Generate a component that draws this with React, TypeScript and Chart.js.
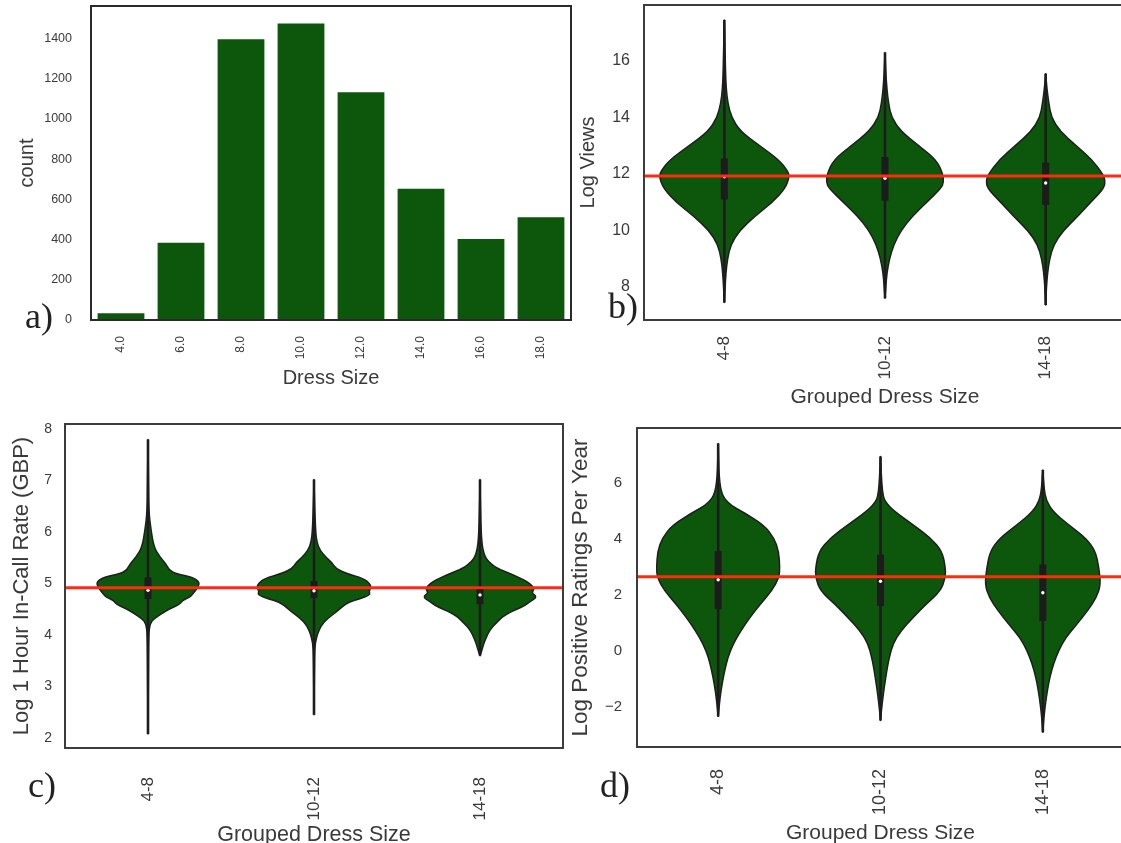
import React, { useEffect, useRef } from "react";
import { Chart, registerables } from "chart.js";

Chart.register(...registerables);

const FONT = "'Liberation Sans', Arial, Helvetica, sans-serif";
const GREEN = "#0d570d";
const EDGE = "#1e1e1e";
const TEXT = "#3a3a3a";
const RED = "#ff2a12";
const FRAME = "#3c3c3c";

// ---------- a) bar chart ----------
const dressSizes = ["4.0", "6.0", "8.0", "10.0", "12.0", "14.0", "16.0", "18.0"];
const dressCounts = [33, 384, 1396, 1475, 1133, 653, 403, 511];
const countTicks = [0, 200, 400, 600, 800, 1000, 1200, 1400];

// ---------- shared groups ----------
const sizeGroups = ["4-8", "10-12", "14-18"];

// ---------- b) Log Views ----------
const viewsTicks = [8, 10, 12, 14, 16];
const viewsMean = 11.93;
const viewsMedian = [11.9, 11.85, 11.68];
const viewsQ1 = [11.1, 11.05, 10.9];
const viewsQ3 = [12.55, 12.6, 12.4];
const viewsLow = [7.45, 7.6, 7.36];
const viewsHigh = [17.45, 16.3, 15.55];
// [value, half width in category units]
const viewsShape48: [number, number][] = [
  [17.45, 0], [16.5, 0.004], [15.5, 0.008], [15, 0.012], [14.5, 0.022], [14, 0.045], [13.5, 0.1],
  [13, 0.22], [12.5, 0.34], [12.1, 0.395], [11.9, 0.405], [11.5, 0.38], [11, 0.3], [10.5, 0.19],
  [10, 0.095], [9.5, 0.04], [9, 0.02], [8.5, 0.01], [8, 0.005], [7.45, 0],
];
const viewsShape1012: [number, number][] = [
  [16.3, 0], [15.5, 0.006], [15, 0.012], [14.5, 0.022], [14, 0.04], [13.5, 0.1], [13, 0.21],
  [12.5, 0.32], [12, 0.36], [11.7, 0.365], [11.5, 0.35], [11, 0.26], [10.5, 0.17], [10, 0.1],
  [9.5, 0.055], [9, 0.028], [8.5, 0.012], [8, 0.005], [7.6, 0],
];
const viewsShape1418: [number, number][] = [
  [15.55, 0], [15, 0.008], [14.5, 0.02], [14, 0.035], [13.5, 0.09], [13, 0.19], [12.5, 0.29],
  [12, 0.355], [11.8, 0.37], [11.5, 0.365], [11, 0.28], [10.5, 0.2], [10, 0.11], [9.5, 0.05],
  [9, 0.025], [8.5, 0.012], [8, 0.005], [7.36, 0],
];

// ---------- c) Log 1 Hour In-Call Rate ----------
const rateTicks = [2, 3, 4, 5, 6, 7, 8];
const rateMean = 4.92;
const rateMedian = [4.87, 4.86, 4.78];
const rateQ1 = [4.7, 4.72, 4.6];
const rateQ3 = [5.12, 5.05, 4.95];
const rateLow = [2.08, 2.45, 3.6];
const rateHigh = [7.8, 7.02, 7.02];
const rateShape48: [number, number][] = [
  [7.8, 0], [7, 0.003], [6.4, 0.005], [6.04, 0.018], [5.71, 0.036], [5.52, 0.07], [5.39, 0.108],
  [5.26, 0.127], [5.19, 0.17], [5.12, 0.27], [5.02, 0.313], [4.9, 0.295], [4.8, 0.27], [4.74, 0.253],
  [4.67, 0.205], [4.6, 0.193], [4.51, 0.13], [4.41, 0.08], [4.32, 0.036], [4.22, 0.012],
  [4.0, 0.004], [3, 0.002], [2.08, 0],
];
const rateShape1012: [number, number][] = [
  [7.02, 0], [6.5, 0.004], [6, 0.01], [5.8, 0.018], [5.65, 0.035], [5.5, 0.075], [5.4, 0.11],
  [5.3, 0.13], [5.2, 0.19], [5.1, 0.3], [5.0, 0.335], [4.93, 0.345], [4.85, 0.33], [4.78, 0.34],
  [4.7, 0.27], [4.64, 0.21], [4.55, 0.17], [4.44, 0.13], [4.34, 0.09], [4.24, 0.055], [4.1, 0.03],
  [3.95, 0.015], [3.8, 0.006], [3.5, 0.003], [2.45, 0],
];
const rateShape1418: [number, number][] = [
  [7.02, 0], [6.3, 0.004], [5.8, 0.01], [5.55, 0.025], [5.43, 0.05], [5.3, 0.1], [5.17, 0.2],
  [5.03, 0.29], [4.9, 0.33], [4.82, 0.31], [4.74, 0.345], [4.65, 0.3], [4.57, 0.27], [4.5, 0.22],
  [4.44, 0.18], [4.34, 0.13], [4.24, 0.1], [4.14, 0.07], [4.04, 0.05], [3.9, 0.03], [3.78, 0.018],
  [3.65, 0.006], [3.6, 0],
];

// ---------- d) Log Positive Ratings Per Year ----------
const ratingTicks = [-2, 0, 2, 4, 6];
const ratingMean = 2.66;
const ratingMedian = [2.55, 2.5, 2.09];
const ratingQ1 = [1.5, 1.62, 1.08];
const ratingQ3 = [3.57, 3.45, 3.1];
const ratingLow = [-2.33, -2.47, -2.89];
const ratingHigh = [7.42, 6.95, 6.47];
const ratingShape48: [number, number][] = [
  [7.42, 0], [6.5, 0.004], [6, 0.01], [5.7, 0.02], [5.47, 0.035], [5.2, 0.08], [4.99, 0.146],
  [4.52, 0.28], [4.04, 0.345], [3.57, 0.373], [2.98, 0.38], [2.62, 0.375], [2.15, 0.33],
  [1.68, 0.26], [1.2, 0.195], [0.73, 0.14], [0.25, 0.092], [-0.22, 0.06], [-0.69, 0.04],
  [-1.17, 0.024], [-1.64, 0.012], [-2.1, 0.004], [-2.33, 0],
];
const ratingShape1012: [number, number][] = [
  [6.95, 0], [6.2, 0.006], [5.7, 0.012], [5.35, 0.025], [4.99, 0.087], [4.52, 0.2], [4.04, 0.31],
  [3.57, 0.38], [2.98, 0.4], [2.62, 0.4], [2.15, 0.37], [1.68, 0.28], [1.2, 0.2], [0.73, 0.125],
  [0.25, 0.076], [-0.22, 0.054], [-0.69, 0.039], [-1.17, 0.026], [-1.64, 0.015], [-2.1, 0.006],
  [-2.47, 0],
];
const ratingShape1418: [number, number][] = [
  [6.47, 0], [5.8, 0.008], [5.4, 0.02], [4.99, 0.06], [4.52, 0.157], [4.04, 0.265], [3.57, 0.325],
  [2.98, 0.345], [2.39, 0.357], [1.91, 0.33], [1.44, 0.275], [0.96, 0.21], [0.49, 0.14],
  [0.02, 0.097], [-0.46, 0.065], [-0.93, 0.043], [-1.4, 0.028], [-1.88, 0.016], [-2.35, 0.007],
  [-2.89, 0],
];

// ---------- plugins ----------
const violinPlugin = {
  id: "violinLayer",
  beforeDatasetsDraw(chart: any, _args: any, opts: any) {
    const items = opts && opts.items;
    if (!items) return;
    const { ctx, chartArea } = chart;
    const xs = chart.scales.x;
    const ys = chart.scales.y;
    ctx.save();
    ctx.beginPath();
    ctx.rect(chartArea.left, chartArea.top, chartArea.right - chartArea.left, chartArea.bottom - chartArea.top);
    ctx.clip();
    items.forEach((v: any) => {
      const pts: number[][] = [];
      v.shape.forEach(([val, hw]: number[]) => pts.push([xs.getPixelForValue(v.x + hw), ys.getPixelForValue(val)]));
      for (let i = v.shape.length - 1; i >= 0; i--) {
        const [val, hw] = v.shape[i];
        pts.push([xs.getPixelForValue(v.x - hw), ys.getPixelForValue(val)]);
      }
      const n = pts.length;
      const mid = (a: number[], b: number[]) => [(a[0] + b[0]) / 2, (a[1] + b[1]) / 2];
      ctx.beginPath();
      const m0 = mid(pts[n - 1], pts[0]);
      ctx.moveTo(m0[0], m0[1]);
      for (let i = 0; i < n; i++) {
        const p = pts[i];
        const m = mid(p, pts[(i + 1) % n]);
        ctx.quadraticCurveTo(p[0], p[1], m[0], m[1]);
      }
      ctx.closePath();
      ctx.fillStyle = opts.fill;
      ctx.fill();
      ctx.lineWidth = opts.edgeWidth;
      ctx.strokeStyle = opts.edge;
      ctx.lineJoin = "round";
      ctx.stroke();
      const cx = xs.getPixelForValue(v.x);
      ctx.lineCap = "butt";
      ctx.strokeStyle = opts.boxColor;
      ctx.beginPath();
      ctx.moveTo(cx, ys.getPixelForValue(v.lo));
      ctx.lineTo(cx, ys.getPixelForValue(v.hi));
      ctx.lineWidth = opts.whiskerWidth;
      ctx.stroke();
      ctx.beginPath();
      ctx.moveTo(cx, ys.getPixelForValue(v.q1));
      ctx.lineTo(cx, ys.getPixelForValue(v.q3));
      ctx.lineWidth = opts.boxWidth;
      ctx.stroke();
    });
    ctx.restore();
  },
};

const framePlugin = {
  id: "frame",
  afterDraw(chart: any, _args: any, opts: any) {
    const { ctx, chartArea } = chart;
    ctx.save();
    ctx.strokeStyle = opts.color || FRAME;
    ctx.lineWidth = opts.width || 2;
    ctx.strokeRect(chartArea.left, chartArea.top, chartArea.right - chartArea.left, chartArea.bottom - chartArea.top);
    ctx.restore();
  },
};

// ---------- helpers ----------
function fmtNum(v: number) {
  return v < 0 ? "\u2212" + Math.abs(v) : String(v);
}

function yAxis(p: any) {
  return {
    type: "linear",
    position: "left",
    min: p.min,
    max: p.max,
    afterBuildTicks: (s: any) => {
      s.ticks = p.ticks.map((v: number) => ({ value: v }));
    },
    afterFit: (s: any) => {
      s.width = p.width;
      s.paddingTop = 0;
      s.paddingBottom = 0;
      s.paddingLeft = 0;
      s.paddingRight = 0;
    },
    grid: { display: false, drawTicks: false },
    border: { display: false },
    ticks: {
      font: { size: p.tickSize, family: FONT },
      color: TEXT,
      padding: p.tickPad,
      callback: (v: number) => fmtNum(v),
    },
    title: {
      display: true,
      text: p.title,
      font: { size: p.titleSize, family: FONT, lineHeight: 1 },
      color: TEXT,
      padding: { top: p.titlePad, bottom: 0 },
    },
  };
}

function xTitle(text: string, size: number, pad: number) {
  return {
    display: true,
    text,
    font: { size, family: FONT, lineHeight: 1 },
    color: TEXT,
    padding: { top: 0, bottom: pad },
  };
}

function violinConfig(p: any) {
  const items = [0, 1, 2].map((i) => ({
    x: i,
    shape: p.shapes[i],
    q1: p.q1[i],
    q3: p.q3[i],
    lo: p.low[i],
    hi: p.high[i],
  }));
  return {
    type: "scatter",
    data: {
      datasets: [
        {
          type: "line",
          data: [
            { x: -0.5, y: p.mean },
            { x: 2.5, y: p.mean },
          ],
          borderColor: RED,
          borderWidth: 3,
          pointRadius: 0,
          fill: false,
        },
        {
          type: "scatter",
          data: p.median.map((m: number, i: number) => ({ x: i, y: m })),
          pointRadius: 1.7,
          pointBackgroundColor: "#ffffff",
          pointBorderWidth: 0,
        },
      ],
    },
    options: {
      responsive: false,
      animation: false,
      devicePixelRatio: 1,
      events: [],
      layout: { padding: p.padding },
      plugins: {
        legend: { display: false },
        tooltip: { enabled: false },
        violinLayer: {
          items,
          fill: GREEN,
          edge: EDGE,
          edgeWidth: 1.5,
          boxColor: "#1c1c1c",
          whiskerWidth: 2.6,
          boxWidth: 7,
        },
        frame: { color: FRAME, width: 2 },
      },
      scales: {
        x: {
          type: "linear",
          position: "bottom",
          min: -0.5,
          max: 2.5,
          afterBuildTicks: (s: any) => {
            s.ticks = sizeGroups.map((_g, i) => ({ value: i }));
          },
          afterFit: (s: any) => {
            s.height = p.xHeight;
            s.paddingLeft = 0;
            s.paddingRight = 0;
            s.paddingTop = 0;
            s.paddingBottom = 0;
          },
          grid: { display: false, drawTicks: false },
          border: { display: false },
          ticks: {
            autoSkip: false,
            minRotation: 90,
            maxRotation: 90,
            font: { size: p.xTickSize, family: FONT },
            color: TEXT,
            padding: p.xTickPad,
            callback: (v: number) => sizeGroups[v] ?? "",
          },
          title: xTitle("Grouped Dress Size", p.xTitleSize, p.xTitlePad),
        },
        y: yAxis(p.y),
      },
    },
    plugins: [violinPlugin, framePlugin],
  };
}

function barConfig() {
  return {
    type: "bar",
    data: {
      labels: dressSizes,
      datasets: [
        {
          data: dressCounts,
          backgroundColor: GREEN,
          borderWidth: 0,
          barPercentage: 0.78,
          categoryPercentage: 1,
        },
      ],
    },
    options: {
      responsive: false,
      animation: false,
      devicePixelRatio: 1,
      events: [],
      layout: { padding: { top: 6, right: 9, left: 0, bottom: 0 } },
      plugins: {
        legend: { display: false },
        tooltip: { enabled: false },
        frame: { color: "#2a2a2a", width: 2 },
      },
      scales: {
        x: {
          type: "category",
          offset: true,
          afterFit: (s: any) => {
            s.height = 80;
            s.paddingLeft = 0;
            s.paddingRight = 0;
            s.paddingTop = 0;
            s.paddingBottom = 0;
          },
          grid: { display: false, drawTicks: false },
          border: { display: false },
          ticks: {
            autoSkip: false,
            minRotation: 90,
            maxRotation: 90,
            font: { size: 12, family: FONT },
            color: TEXT,
            padding: 16,
          },
          title: xTitle("Dress Size", 20, 12),
        },
        y: yAxis({
          min: 0,
          max: 1562,
          ticks: countTicks,
          width: 91,
          tickSize: 12.5,
          tickPad: 19,
          title: "count",
          titleSize: 20,
          titlePad: 17,
        }),
      },
    },
    plugins: [framePlugin],
  };
}

const configB = () =>
  violinConfig({
    shapes: [viewsShape48, viewsShape1012, viewsShape1418],
    q1: viewsQ1,
    q3: viewsQ3,
    low: viewsLow,
    high: viewsHigh,
    median: viewsMedian,
    mean: viewsMean,
    padding: { top: 5, right: 3, left: 0, bottom: 0 },
    xHeight: 90,
    xTickSize: 17,
    xTickPad: 16,
    xTitleSize: 21,
    xTitlePad: 2,
    y: {
      min: 6.83,
      max: 17.98,
      ticks: viewsTicks,
      width: 74,
      tickSize: 16,
      tickPad: 14,
      title: "Log Views",
      titleSize: 20,
      titlePad: 8,
    },
  });

const configC = () =>
  violinConfig({
    shapes: [rateShape48, rateShape1012, rateShape1418],
    q1: rateQ1,
    q3: rateQ3,
    low: rateLow,
    high: rateHigh,
    median: rateMedian,
    mean: rateMean,
    padding: { top: 14, right: 17, left: 0, bottom: 0 },
    xHeight: 102,
    xTickSize: 17,
    xTickPad: 29,
    xTitleSize: 21.5,
    xTitlePad: 4,
    y: {
      min: 1.806,
      max: 8.1,
      ticks: rateTicks,
      width: 65,
      tickSize: 14,
      tickPad: 13,
      title: "Log 1 Hour In-Call Rate (GBP)",
      titleSize: 22,
      titlePad: 11,
    },
  });

const configD = () =>
  violinConfig({
    shapes: [ratingShape48, ratingShape1012, ratingShape1418],
    q1: ratingQ1,
    q3: ratingQ3,
    low: ratingLow,
    high: ratingHigh,
    median: ratingMedian,
    mean: ratingMean,
    padding: { top: 18, right: 6, left: 0, bottom: 0 },
    xHeight: 103,
    xTickSize: 18,
    xTickPad: 22,
    xTitleSize: 21,
    xTitlePad: 6,
    y: {
      min: -3.42,
      max: 7.97,
      ticks: ratingTicks,
      width: 67,
      tickSize: 15,
      tickPad: 15,
      title: "Log Positive Ratings Per Year",
      titleSize: 22.5,
      titlePad: 0,
    },
  });

function Panel(props: { left: number; top: number; width: number; height: number; make: () => any }) {
  const ref = useRef<HTMLCanvasElement>(null);
  useEffect(() => {
    const chart = new Chart(ref.current as HTMLCanvasElement, props.make());
    return () => chart.destroy();
  }, []);
  return (
    <canvas
      ref={ref}
      width={props.width}
      height={props.height}
      style={{ position: "absolute", left: props.left, top: props.top, width: props.width, height: props.height }}
    />
  );
}

const panelLetter: React.CSSProperties = {
  position: "absolute",
  fontFamily: "'Liberation Serif', 'Times New Roman', serif",
  fontSize: 36,
  lineHeight: 1,
  color: "#222",
  whiteSpace: "nowrap",
};

export default function App() {
  return (
    <div
      style={{
        position: "absolute",
        left: 0,
        top: 0,
        width: 1121,
        height: 843,
        overflow: "hidden",
        background: "#ffffff",
      }}
    >
      <Panel left={0} top={0} width={580} height={400} make={barConfig} />
      <Panel left={570} top={0} width={560} height={410} make={configB} />
      <Panel left={0} top={410} width={580} height={440} make={configC} />
      <Panel left={570} top={410} width={560} height={440} make={configD} />
      <div style={{ ...panelLetter, left: 25, top: 298 }}>a)</div>
      <div style={{ ...panelLetter, left: 608, top: 288 }}>b)</div>
      <div style={{ ...panelLetter, left: 28, top: 767 }}>c)</div>
      <div style={{ ...panelLetter, left: 600, top: 767 }}>d)</div>
    </div>
  );
}
